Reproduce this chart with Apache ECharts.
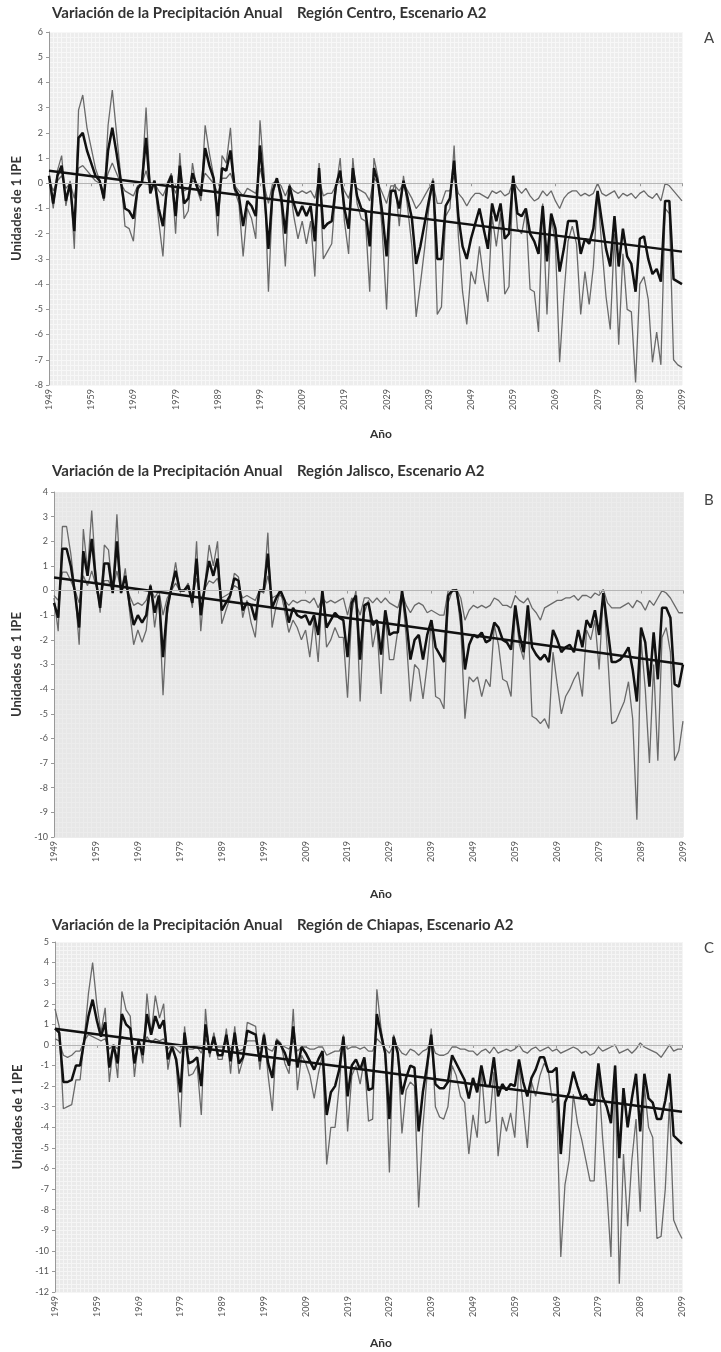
<!DOCTYPE html>
<html>
<head>
<meta charset="utf-8">
<script src="https://cdn.jsdelivr.net/npm/echarts@6/dist/echarts.min.js"></script>
<style>
html,body{margin:0;padding:0;background:#fff;}
#main{width:721px;height:1352px;}
</style>
</head>
<body>
<div id="main"></div>
<script>
// años 1949-2099
var years = [];
for (var y = 1949; y <= 2099; y++) years.push(String(y));

// Región Centro
var centroExt = [0.3,-1.0,0.5,1.1,-0.9,0.1,-2.6,2.9,3.5,2.2,
 1.4,0.6,0.1,-0.7,2.3,3.7,2.0,0.3,-1.7,-1.8,
 -2.3,-0.3,0.1,3.0,-0.3,0.1,-1.5,-2.9,0.0,0.4,
 -2.0,1.2,-1.4,-1.1,0.8,-0.2,-0.7,2.3,1.2,0.3,
 -2.1,1.1,0.8,2.2,-0.3,-0.8,-2.9,-1.0,-1.4,-2.2,
 2.5,0.3,-4.3,-0.5,0.2,-0.8,-3.3,0.0,-1.3,-2.2,
 -1.5,-2.4,-1.5,-3.7,0.8,-3.0,-2.7,-2.4,-0.2,1.0,
 -1.5,-2.8,1.0,-0.8,-1.4,-1.5,-4.3,1.0,0.2,-2.0,
 -5.0,-0.5,0.0,-1.7,0.3,-1.0,-2.5,-5.3,-4.0,-2.6,
 -1.0,0.2,-5.2,-4.9,-1.3,-1.0,1.5,-2.1,-4.3,-5.6,
 -3.5,-4.0,-2.5,-3.8,-4.7,-1.3,-2.5,-1.2,-4.4,-4.1,
 0.3,-1.8,-2.0,-1.1,-4.2,-4.3,-5.9,-0.8,-5.2,-1.3,
 -2.4,-7.1,-4.5,-2.3,-1.7,-2.4,-5.2,-3.5,-4.8,-3.3,
 -0.4,-2.5,-4.5,-5.8,-2.0,-6.4,-2.8,-5.0,-5.1,-7.9,
 -4.0,-3.7,-4.6,-7.1,-5.9,-7.2,-1.0,-1.2,-7.0,-7.2,
 -7.3];
var centroMedia = [0.3,-0.8,0.3,0.7,-0.7,0.0,-1.9,1.8,2.0,1.3,
 0.8,0.3,0.1,-0.6,1.3,2.2,1.2,0.1,-1.0,-1.1,
 -1.4,-0.2,0.0,1.8,-0.4,0.1,-1.0,-1.7,-0.1,0.3,
 -1.3,0.7,-0.8,-0.6,0.4,-0.1,-0.5,1.4,0.7,0.2,
 -1.3,0.6,0.5,1.3,-0.2,-0.5,-1.7,-0.7,-0.9,-1.3,
 1.5,-0.3,-2.6,-0.3,0.2,-0.5,-2.0,-0.1,-0.8,-1.3,
 -0.9,-1.3,-0.9,-2.3,0.6,-1.8,-1.6,-1.5,-0.1,0.5,
 -1.0,-1.8,0.6,-0.5,-1.0,-1.1,-2.5,0.6,0.0,-1.2,
 -2.9,-0.3,-0.3,-1.0,0.1,-0.6,-1.4,-3.2,-2.5,-1.6,
 -0.7,0.1,-3.0,-3.0,-0.9,-0.6,0.9,-1.3,-2.5,-3.0,
 -2.2,-1.6,-1.0,-1.8,-2.6,-0.8,-1.5,-0.8,-2.2,-2.0,
 0.3,-1.2,-1.3,-1.0,-2.0,-2.3,-2.8,-0.9,-3.1,-1.2,
 -1.8,-3.5,-2.6,-1.5,-1.5,-1.5,-2.8,-2.2,-2.4,-1.8,
 -0.3,-1.5,-2.6,-3.3,-1.3,-3.3,-1.8,-2.9,-3.2,-4.3,
 -2.2,-2.1,-3.0,-3.6,-3.4,-3.9,-0.7,-0.7,-3.8,-3.9,
 -4.0];
var centroSuave = [0.2,-0.3,0.1,0.3,-0.2,0.0,-0.6,0.6,0.7,0.5,
 0.3,0.1,0.0,-0.3,0.4,0.8,0.4,0.0,-0.3,-0.4,
 -0.5,-0.1,0.0,0.5,-0.2,0.0,-0.3,-0.5,-0.1,0.1,
 -0.4,0.2,-0.3,-0.2,0.1,0.0,-0.2,0.4,0.2,0.0,
 -0.4,0.2,0.2,0.4,-0.1,-0.3,-0.5,-0.2,-0.3,-0.4,
 0.6,-0.1,-0.8,0.0,0.1,-0.1,-0.5,-0.1,-0.3,-0.4,
 -0.3,-0.4,-0.3,-0.6,0.2,-0.5,-0.4,-0.4,-0.1,0.1,
 -0.3,-0.6,0.1,-0.2,-0.3,-0.4,-0.7,0.2,0.0,-0.4,
 -0.8,-0.1,-0.1,-0.3,0.0,-0.3,-0.6,-1.0,-0.8,-0.5,
 -0.2,0.0,-0.8,-0.8,-0.3,-0.3,0.3,-0.4,-0.6,-0.9,
 -0.6,-0.4,-0.4,-0.5,-0.6,-0.3,-0.4,-0.3,-0.5,-0.4,
 0.1,-0.2,-0.4,-0.2,-0.5,-0.7,-0.6,-0.3,-0.5,-0.3,
 -0.7,-1.0,-0.6,-0.4,-0.3,-0.3,-0.5,-0.4,-0.5,-0.4,
 0.0,-0.4,-0.5,-0.4,-0.3,-0.6,-0.4,-0.5,-0.4,-0.6,
 -0.4,-0.3,-0.5,-0.6,-0.4,-0.7,0.0,-0.1,-0.3,-0.5,
 -0.7];
var centroTendencia = [0.5, -2.71];

// Región Jalisco
var jaliscoExt = [-0.3,-1.65,2.6,2.6,1.5,0.0,-2.2,2.5,0.8,3.25,
 0.6,-0.9,1.85,1.65,-0.1,3.1,-0.1,0.9,-0.8,-2.2,
 -1.6,-2.1,-1.6,0.25,-1.5,-0.2,-4.25,-1.0,0.1,1.15,
 0.0,0.0,0.3,-0.7,2.0,-1.65,0.3,1.85,1.0,2.0,
 -1.35,-0.8,-0.3,0.7,0.55,-1.1,-0.4,-1.3,-1.9,0.0,
 0.0,2.35,-1.5,-0.6,0.0,-0.8,-1.7,-1.2,-1.5,-2.0,
 -1.6,-2.7,-1.2,-2.9,0.0,-2.3,-2.0,-1.5,-1.9,-1.9,
 -4.35,-0.9,0.0,-4.5,-0.9,-0.4,-2.3,-1.4,-4.2,-1.0,
 -2.8,-2.8,-1.6,0.0,-1.9,-4.5,-3.0,-3.2,-4.4,-3.0,
 -1.2,-4.3,-4.4,-4.8,-0.5,0.0,0.0,-1.5,-5.2,-3.5,
 -3.7,-3.5,-4.3,-3.6,-3.9,-1.4,-2.2,-3.6,-3.7,-4.3,
 -0.8,-2.2,-2.8,-1.0,-5.1,-5.2,-5.4,-5.2,-5.6,-2.5,
 -3.8,-5.0,-4.3,-4.0,-3.6,-3.3,-4.3,-1.6,-2.0,-1.2,
 -3.2,-0.1,-2.5,-5.4,-5.3,-4.9,-4.5,-3.7,-5.2,-9.3,
 -2.0,-4.0,-7.0,-3.0,-6.9,-1.9,-1.5,-2.5,-6.9,-6.5,
 -5.3];
var jaliscoMedia = [-0.5,-1.1,1.7,1.7,1.0,-0.1,-1.5,1.6,0.6,2.1,
 0.4,-0.7,1.1,1.1,-0.1,2.0,-0.1,0.6,-0.5,-1.4,
 -1.0,-1.3,-1.0,0.2,-0.9,-0.2,-2.7,-0.7,0.1,0.8,
 0.0,0.0,0.2,-0.5,1.3,-1.0,0.2,1.2,0.6,1.3,
 -0.8,-0.5,-0.2,0.5,0.4,-0.8,-0.5,-0.6,-1.2,0.0,
 0.0,1.5,-0.7,-0.3,0.0,-0.4,-1.3,-0.7,-1.0,-1.1,
 -1.0,-1.4,-1.0,-1.8,0.0,-1.5,-1.2,-0.9,-1.1,-1.2,
 -2.7,-0.5,-0.2,-2.8,-0.6,-0.5,-1.4,-1.2,-2.6,-0.8,
 -1.8,-1.7,-1.7,0.0,-1.2,-2.8,-2.0,-1.8,-2.8,-1.8,
 -1.2,-2.3,-2.6,-2.9,-0.2,0.0,0.0,-1.0,-3.2,-2.2,
 -1.8,-1.9,-1.7,-2.1,-2.0,-1.3,-1.5,-2.0,-2.1,-2.4,
 -0.6,-1.8,-2.5,-0.6,-2.3,-2.6,-2.8,-2.6,-2.9,-1.6,
 -2.0,-2.5,-2.3,-2.2,-2.5,-1.6,-2.3,-1.2,-1.5,-0.8,
 -1.8,-0.1,-1.5,-2.9,-2.9,-2.8,-2.6,-2.3,-3.2,-4.5,
 -1.5,-2.1,-3.9,-1.7,-3.6,-0.7,-0.7,-1.1,-3.8,-3.9,
 -3.0];
var jaliscoSuave = [-0.2,-0.4,0.75,0.75,0.4,0.0,-0.5,0.6,0.2,0.8,
 0.2,-0.3,0.4,0.4,0.0,0.8,0.0,0.2,-0.2,-0.6,
 -0.5,-0.6,-0.4,0.1,-0.3,0.0,-1.0,-0.3,0.0,0.3,
 0.0,0.0,0.1,-0.2,0.5,-0.4,0.1,0.4,0.3,0.5,
 -0.3,-0.2,-0.1,0.2,0.1,-0.3,-0.2,-0.3,-0.4,0.0,
 -0.1,0.6,-0.3,-0.2,-0.2,-0.4,-0.6,-0.4,-0.5,-0.4,
 -0.4,-0.5,-0.3,-0.7,-0.3,-0.5,-0.4,-0.5,-0.4,-0.3,
 -1.0,-0.3,-0.5,-1.0,-0.3,-0.3,-0.5,-0.3,-0.5,-0.3,
 -0.5,-0.6,-0.7,-0.1,-0.6,-0.9,-0.6,-0.5,-0.6,-0.9,
 -0.8,-0.9,-1.0,-1.0,0.0,0.0,0.05,-0.3,-1.2,-0.8,
 -0.6,-0.7,-0.6,-0.7,-0.6,-0.3,-0.4,-0.6,-0.6,-0.7,
 -0.2,-0.4,-0.5,-0.3,-0.7,-0.9,-1.2,-0.7,-0.6,-0.5,
 -0.4,-0.4,-0.3,-0.3,-0.2,-0.4,-0.2,-0.2,-0.3,-0.1,
 -0.2,0.05,-0.5,-0.7,-0.7,-0.7,-0.6,-0.5,-0.7,-0.4,
 -0.5,-0.8,-0.4,-0.6,-0.3,0.0,-0.1,-0.3,-0.6,-0.9,
 -0.9];
var jaliscoTendencia = [0.53, -2.99];

// Región de Chiapas
var chiapasExt = [1.75,0.9,-3.1,-3.0,-2.9,-1.7,-1.7,0.3,2.5,4.0,
 2.0,0.6,1.8,-1.8,0.0,-1.6,2.6,1.7,1.4,-1.55,
 0.3,-0.9,2.5,0.5,2.4,1.3,2.0,-1.2,0.0,-0.9,
 -4.0,0.9,-1.5,-1.4,-1.0,-3.4,1.75,-0.6,0.6,-0.7,
 -0.7,0.8,-1.4,0.9,-1.4,-0.7,1.1,1.0,0.9,-1.2,
 0.6,-1.5,-3.2,0.3,0.1,-0.9,-1.4,1.75,-2.2,-0.5,
 -0.9,-1.5,-2.6,-1.4,-0.5,-5.8,-4.0,-4.0,-2.0,0.5,
 -4.2,-1.5,-1.0,-1.9,-0.7,-3.7,-3.6,2.7,0.8,-0.5,
 -6.2,0.5,-0.3,-4.3,-2.2,-1.8,-2.0,-7.9,-4.0,-1.5,
 0.8,-3.0,-3.5,-3.6,-3.0,-1.0,-1.5,-2.5,-2.8,-5.3,
 -3.4,-4.5,-1.2,-3.8,-3.7,-1.3,-5.4,-3.5,-4.2,-3.3,
 -4.5,-1.0,-3.0,-5.0,-1.8,-2.5,-1.5,-0.9,-1.2,-2.8,
 -2.6,-10.3,-6.8,-5.6,-2.4,-3.8,-4.6,-5.6,-6.6,-6.6,
 -1.3,-4.5,-7.0,-10.3,-1.0,-11.6,-5.3,-8.8,-5.6,-3.6,
 -8.1,-2.0,-4.0,-4.5,-9.4,-9.3,-7.0,-2.8,-8.5,-9.0,
 -9.4];
var chiapasMedia = [0.8,0.6,-1.8,-1.8,-1.7,-1.0,-1.0,0.2,1.4,2.2,
 1.2,0.4,1.1,-1.1,0.0,-0.9,1.5,1.0,0.8,-0.9,
 0.2,-0.5,1.5,0.5,1.4,0.8,1.2,-0.7,-0.1,-0.7,
 -2.3,0.6,-0.9,-0.8,-0.6,-2.0,1.0,-0.4,0.4,-0.5,
 -0.5,0.5,-0.8,0.6,-0.9,-0.6,0.7,0.6,0.5,-0.8,
 0.5,-0.9,-1.6,0.2,0.0,-0.4,-1.0,0.9,-1.1,-0.1,
 -0.4,-0.8,-1.2,-0.7,-0.3,-3.4,-2.3,-2.0,-1.2,0.4,
 -2.5,-1.0,-0.7,-1.2,-0.6,-2.2,-2.1,1.5,0.5,-0.4,
 -3.6,0.4,-0.4,-2.4,-1.6,-1.0,-1.1,-4.2,-2.3,-1.0,
 0.5,-1.9,-2.1,-2.1,-1.8,-0.5,-0.9,-1.3,-1.7,-2.6,
 -1.6,-2.3,-1.0,-2.0,-2.0,-0.6,-2.5,-1.9,-2.2,-1.9,
 -2.0,-0.7,-1.8,-2.5,-1.6,-1.2,-0.6,-0.6,-1.3,-1.3,
 -1.1,-5.3,-2.8,-2.3,-1.3,-2.0,-2.6,-2.4,-2.9,-2.9,
 -0.9,-2.5,-3.0,-3.8,-1.0,-5.5,-2.1,-4.0,-2.6,-1.4,
 -4.2,-1.4,-2.6,-2.8,-3.6,-3.6,-2.7,-1.4,-4.4,-4.6,
 -4.8];
var chiapasSuave = [0.3,0.2,-0.5,-0.6,-0.5,-0.3,-0.3,0.2,0.5,0.4,
 0.3,0.2,0.3,-0.2,0.0,-0.2,0.4,0.3,0.3,-0.2,
 0.1,-0.1,0.4,0.1,0.3,0.2,0.3,-0.2,0.0,-0.2,
 -0.4,0.1,-0.2,-0.2,-0.1,-0.4,0.3,-0.1,0.1,-0.1,
 -0.1,0.1,-0.2,0.1,-0.3,-0.2,0.2,0.2,0.2,-0.2,
 0.1,-0.2,-0.3,0.1,0.0,-0.1,-0.2,0.2,-0.3,-0.1,
 -0.1,-0.2,-0.2,-0.1,-0.1,-0.5,-0.4,-0.3,-0.3,0.1,
 -0.2,-0.1,-0.1,-0.2,-0.1,-0.3,-0.3,0.3,0.1,-0.2,
 -0.4,0.0,-0.1,-0.4,-0.5,-0.2,-0.3,-0.5,-0.3,-0.2,
 0.2,-0.4,-0.5,-0.5,-0.4,-0.1,-0.1,-0.2,-0.2,-0.3,
 -0.3,-0.5,-0.3,-0.2,-0.4,-0.1,-0.4,-0.3,-0.2,-0.3,
 -0.2,0.0,-0.3,-0.4,-0.2,-0.1,-0.3,-0.2,-0.1,-0.3,
 -0.2,-0.4,-0.3,-0.2,-0.1,-0.2,-0.4,-0.3,-0.5,-0.4,
 -0.1,-0.3,-0.2,-0.1,0.0,-0.4,-0.3,-0.2,-0.4,-0.2,
 0.1,-0.1,-0.2,-0.3,-0.4,-0.6,-0.3,0.0,-0.3,-0.2,
 -0.2];
var chiapasTendencia = [0.79, -3.25];

var titulos = [
  'Variación de la Precipitación Anual    Región Centro, Escenario A2',
  'Variación de la Precipitación Anual    Región Jalisco, Escenario A2',
  'Variación de la Precipitación Anual    Región de Chiapas, Escenario A2'
];
var yMin = [-8, -10, -12];
var yMax = [6, 4, 5];

var FONT = 'Lato, "Open Sans", sans-serif';
var grids = [
  {left: 49, top: 32, width: 633, height: 353, tituloTop: 6, fondo: '#ededed', linea: '#f7f7f7'},
  {left: 54, top: 492, width: 629, height: 345, tituloTop: 464, fondo: '#e7e7e7', linea: '#ececec'},
  {left: 55, top: 942, width: 627, height: 350, tituloTop: 918, fondo: '#eaeaea', linea: '#f5f5f5'}
];
var paneles = [
  [centroExt, centroMedia, centroSuave, centroTendencia],
  [jaliscoExt, jaliscoMedia, jaliscoSuave, jaliscoTendencia],
  [chiapasExt, chiapasMedia, chiapasSuave, chiapasTendencia]
];

var option = {
  backgroundColor: '#fff',
  animation: false,
  title: [], grid: [], xAxis: [], yAxis: [], series: [],
  graphic: []
};

grids.forEach(function (g, i) {
  option.title.push({
    text: titulos[i], left: 52, top: g.tituloTop, padding: 0,
    textStyle: {fontFamily: FONT, fontSize: 15, fontWeight: 'bold', color: '#333'}
  });
  option.grid.push({
    left: g.left, top: g.top, width: g.width, height: g.height,
    show: true, backgroundColor: g.fondo, borderWidth: 0
  });
  option.xAxis.push({
    type: 'category', gridIndex: i, data: years, boundaryGap: false,
    axisLine: {lineStyle: {color: '#999'}},
    axisTick: {interval: 9, length: 3, lineStyle: {color: '#999'}},
    axisLabel: {interval: 9, rotate: 90, fontSize: 9, color: '#555', fontFamily: FONT, margin: 4},
    splitLine: {show: true, interval: 0, lineStyle: {color: g.linea, width: 1}}
  });
  option.yAxis.push({
    type: 'value', gridIndex: i, min: yMin[i], max: yMax[i], interval: 1,
    axisLine: {show: true, lineStyle: {color: '#999'}},
    axisTick: {show: true, length: 3, lineStyle: {color: '#999'}},
    axisLabel: {fontSize: 9, color: '#555', fontFamily: FONT, margin: 6},
    splitLine: {show: true, lineStyle: {color: g.linea}},
    minorTick: {show: false, splitNumber: 5},
    minorSplitLine: {show: true, lineStyle: {color: g.linea}},
    name: 'Unidades de 1 IPE', nameLocation: 'middle', nameGap: 25,
    nameTextStyle: {fontFamily: FONT, fontSize: 13, fontWeight: 'bold', color: '#333'}
  });
  var p = paneles[i];
  option.series.push({
    type: 'line', xAxisIndex: i, yAxisIndex: i, data: p[0], symbol: 'none',
    lineStyle: {color: '#6a6a6a', width: 1.3}, z: 2
  });
  option.series.push({
    type: 'line', xAxisIndex: i, yAxisIndex: i, data: p[2], symbol: 'none',
    lineStyle: {color: '#6a6a6a', width: 1.3}, z: 2,
    markLine: {
      silent: true, symbol: 'none', label: {show: false},
      lineStyle: {color: '#b5b5b5', type: 'solid', width: 1},
      data: [{yAxis: 0}]
    }
  });
  option.series.push({
    type: 'line', xAxisIndex: i, yAxisIndex: i, data: p[1], symbol: 'none',
    lineStyle: {color: '#111', width: 2.5}, z: 3
  });
  option.series.push({
    type: 'line', xAxisIndex: i, yAxisIndex: i, symbol: 'none',
    data: [[years[0], p[3][0]], [years[years.length - 1], p[3][1]]],
    lineStyle: {color: '#111', width: 2.5}, z: 4
  });
});

var anoY = [436, 896, 1345];
anoY.forEach(function (yy) {
  option.graphic.push({
    type: 'text', left: 370, top: yy - 8,
    style: {text: 'Año', font: 'bold 12px ' + FONT, fill: '#333'}
  });
});
option.graphic.push({type: 'rect', shape: {x: 300, y: 898, width: 200, height: 10}, style: {fill: '#fff'}, z: 100});
[['A', 39], ['B', 501], ['C', 949]].forEach(function (l) {
  option.graphic.push({
    type: 'text', left: 704, top: l[1] - 8,
    style: {text: l[0], font: '15px ' + FONT, fill: '#444'}
  });
});

var chart = echarts.init(document.getElementById('main'));
chart.setOption(option);
</script>
</body>
</html>
